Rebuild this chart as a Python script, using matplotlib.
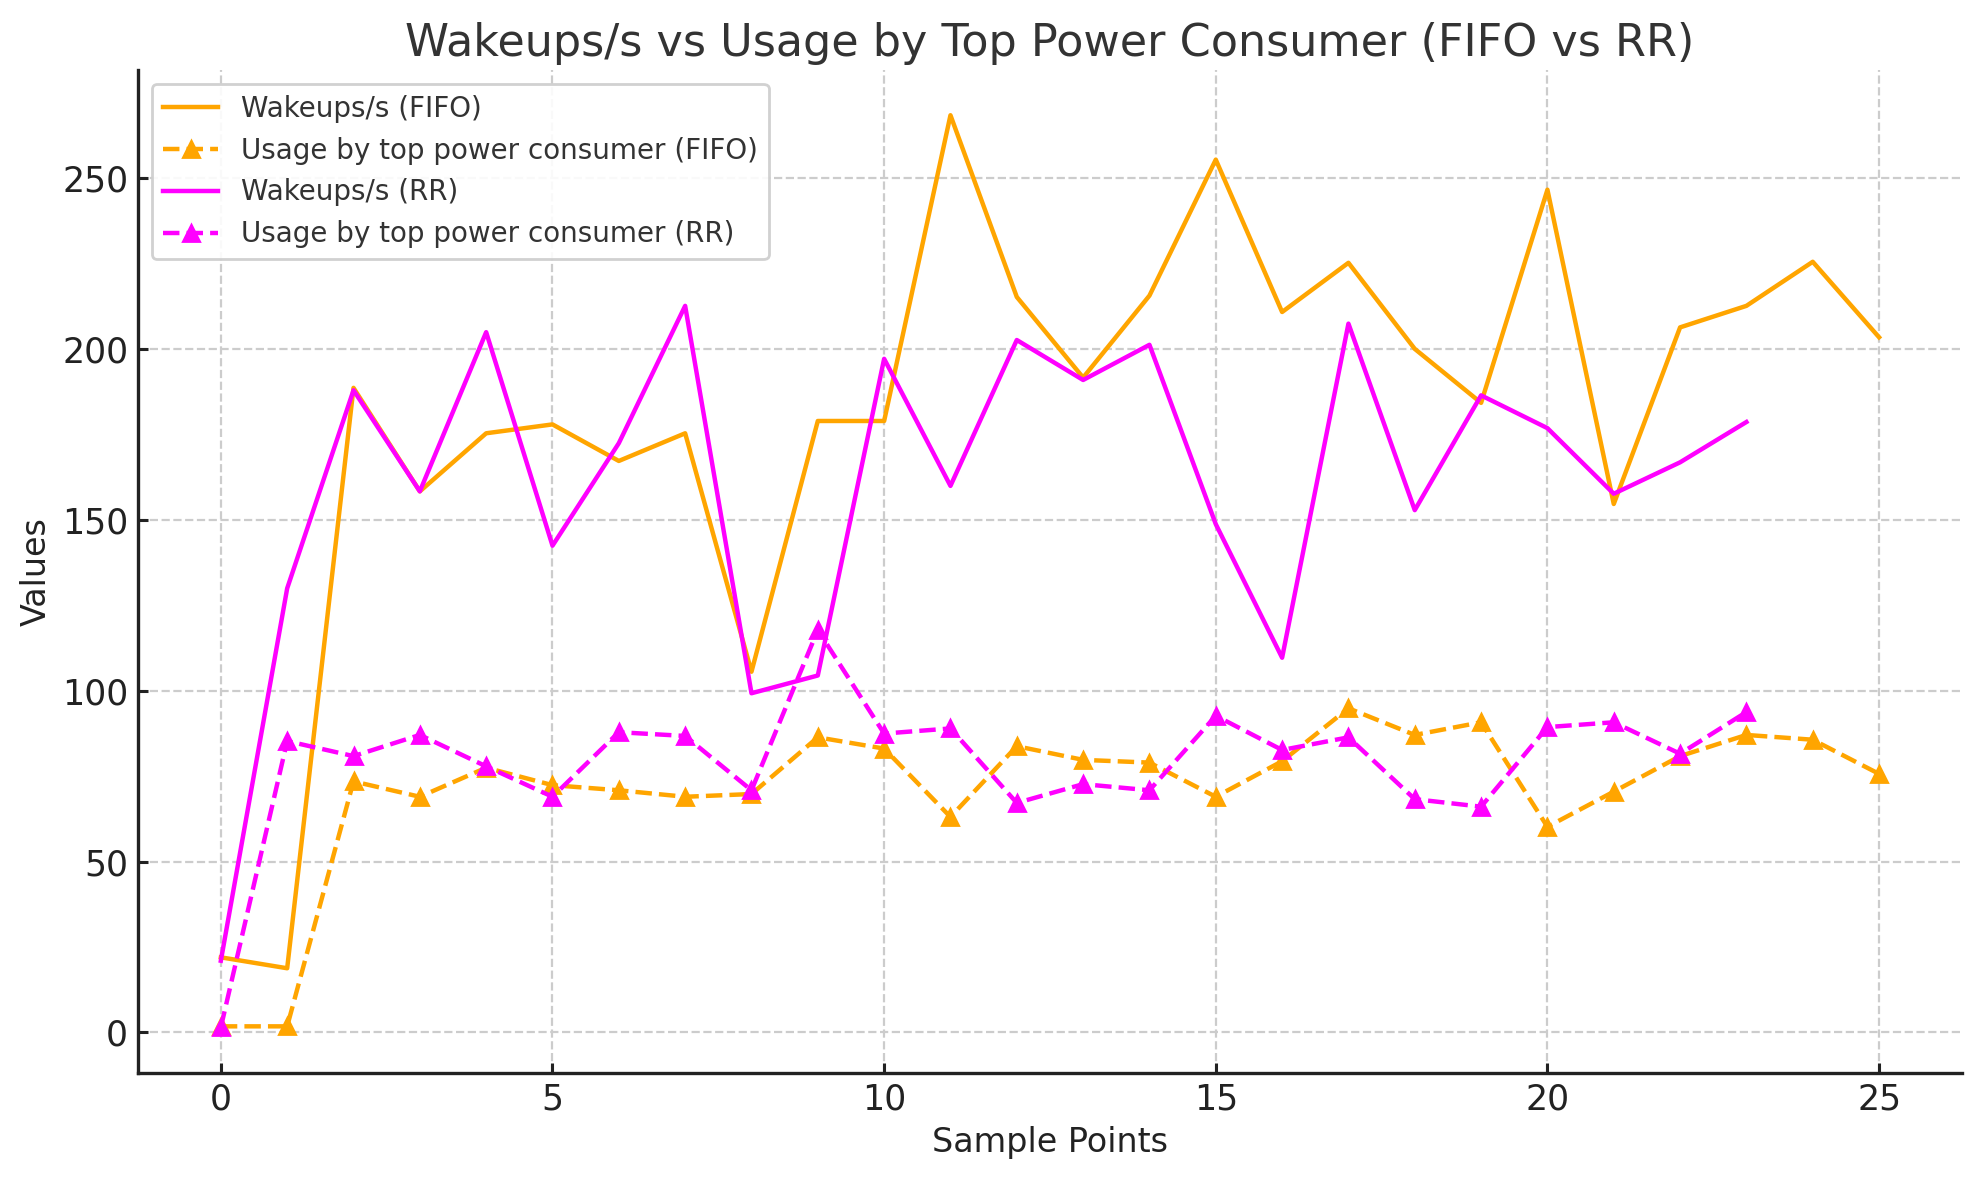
import matplotlib
matplotlib.use("Agg")
import matplotlib.pyplot as plt

x_fifo = list(range(26))
x_rr = list(range(24))

wakeups_fifo = [22, 18.8, 188.7, 158.4, 175.4, 178, 167.3, 175.4, 105.6, 179, 179,
                268.5, 215.3, 191.7, 215.7, 255.5, 210.9, 225.3, 200.1, 184.3,
                246.7, 154.7, 206.4, 212.7, 225.6, 203.5]
usage_fifo = [1.8, 1.8, 73.5, 69, 77.5, 72.4, 70.9, 69, 69.8, 86.4, 83.1, 63.1,
              83.8, 79.8, 79, 69, 79.4, 94.9, 87.1, 90.8, 60.2, 70.5, 80.9, 87.1,
              85.7, 75.7]
wakeups_rr = [21, 130, 188, 158.4, 205, 142.5, 172.5, 212.7, 99.3, 104.5, 197.2,
              160, 202.7, 191, 201.3, 148.8, 109.7, 207.5, 152.9, 186.5, 176.9,
              157.7, 166.9, 178.7]
usage_rr = [1.5, 85.3, 80.9, 87.1, 77.9, 69, 87.9, 86.8, 70.9, 117.8, 87.5, 89,
            67.2, 72.7, 70.9, 92.7, 82.7, 86.4, 68.3, 66.1, 89.4, 90.8, 81.6, 93.8]

fig, ax = plt.subplots(figsize=(9.895, 5.9), dpi=200)
fig.subplots_adjust(left=0.0697, right=0.9914, bottom=0.0907, top=0.941)

ax.plot(x_fifo, wakeups_fifo, color="orange", linestyle="-", lw=1.6, label="Wakeups/s (FIFO)")
ax.plot(x_fifo, usage_fifo, color="orange", linestyle="--", marker="^", ms=6, lw=1.6,
        label="Usage by top power consumer (FIFO)")
ax.plot(x_rr, wakeups_rr, color="magenta", linestyle="-", lw=1.6, label="Wakeups/s (RR)")
ax.plot(x_rr, usage_rr, color="magenta", linestyle="--", marker="^", ms=6, lw=1.6,
        label="Usage by top power consumer (RR)")

ax.set_title("Wakeups/s vs Usage by Top Power Consumer (FIFO vs RR)", fontsize=16,
             color="#333333", pad=5)
ax.set_xlabel("Sample Points", fontsize=12, color="#222222", labelpad=3.5)
ax.set_ylabel("Values", fontsize=12, color="#222222", labelpad=3.5)
ax.tick_params(labelsize=12.5, direction="in", length=3.6, width=1.1, colors="#222222")
ax.grid(True, linestyle="--", color="#cccccc", linewidth=0.8)
for s in ["top", "right"]:
    ax.spines[s].set_visible(False)
for s in ["left", "bottom"]:
    ax.spines[s].set_linewidth(1.2)
    ax.spines[s].set_color("#222222")
ax.set_xticks([0, 5, 10, 15, 20, 25])
ax.set_yticks([0, 50, 100, 150, 200, 250])
leg = ax.legend(loc="upper left", fontsize=10, framealpha=0.9, handlelength=2.0,
                labelspacing=0.5)
for t in leg.get_texts():
    t.set_color("#333333")

fig.savefig("out.png", dpi=200)
